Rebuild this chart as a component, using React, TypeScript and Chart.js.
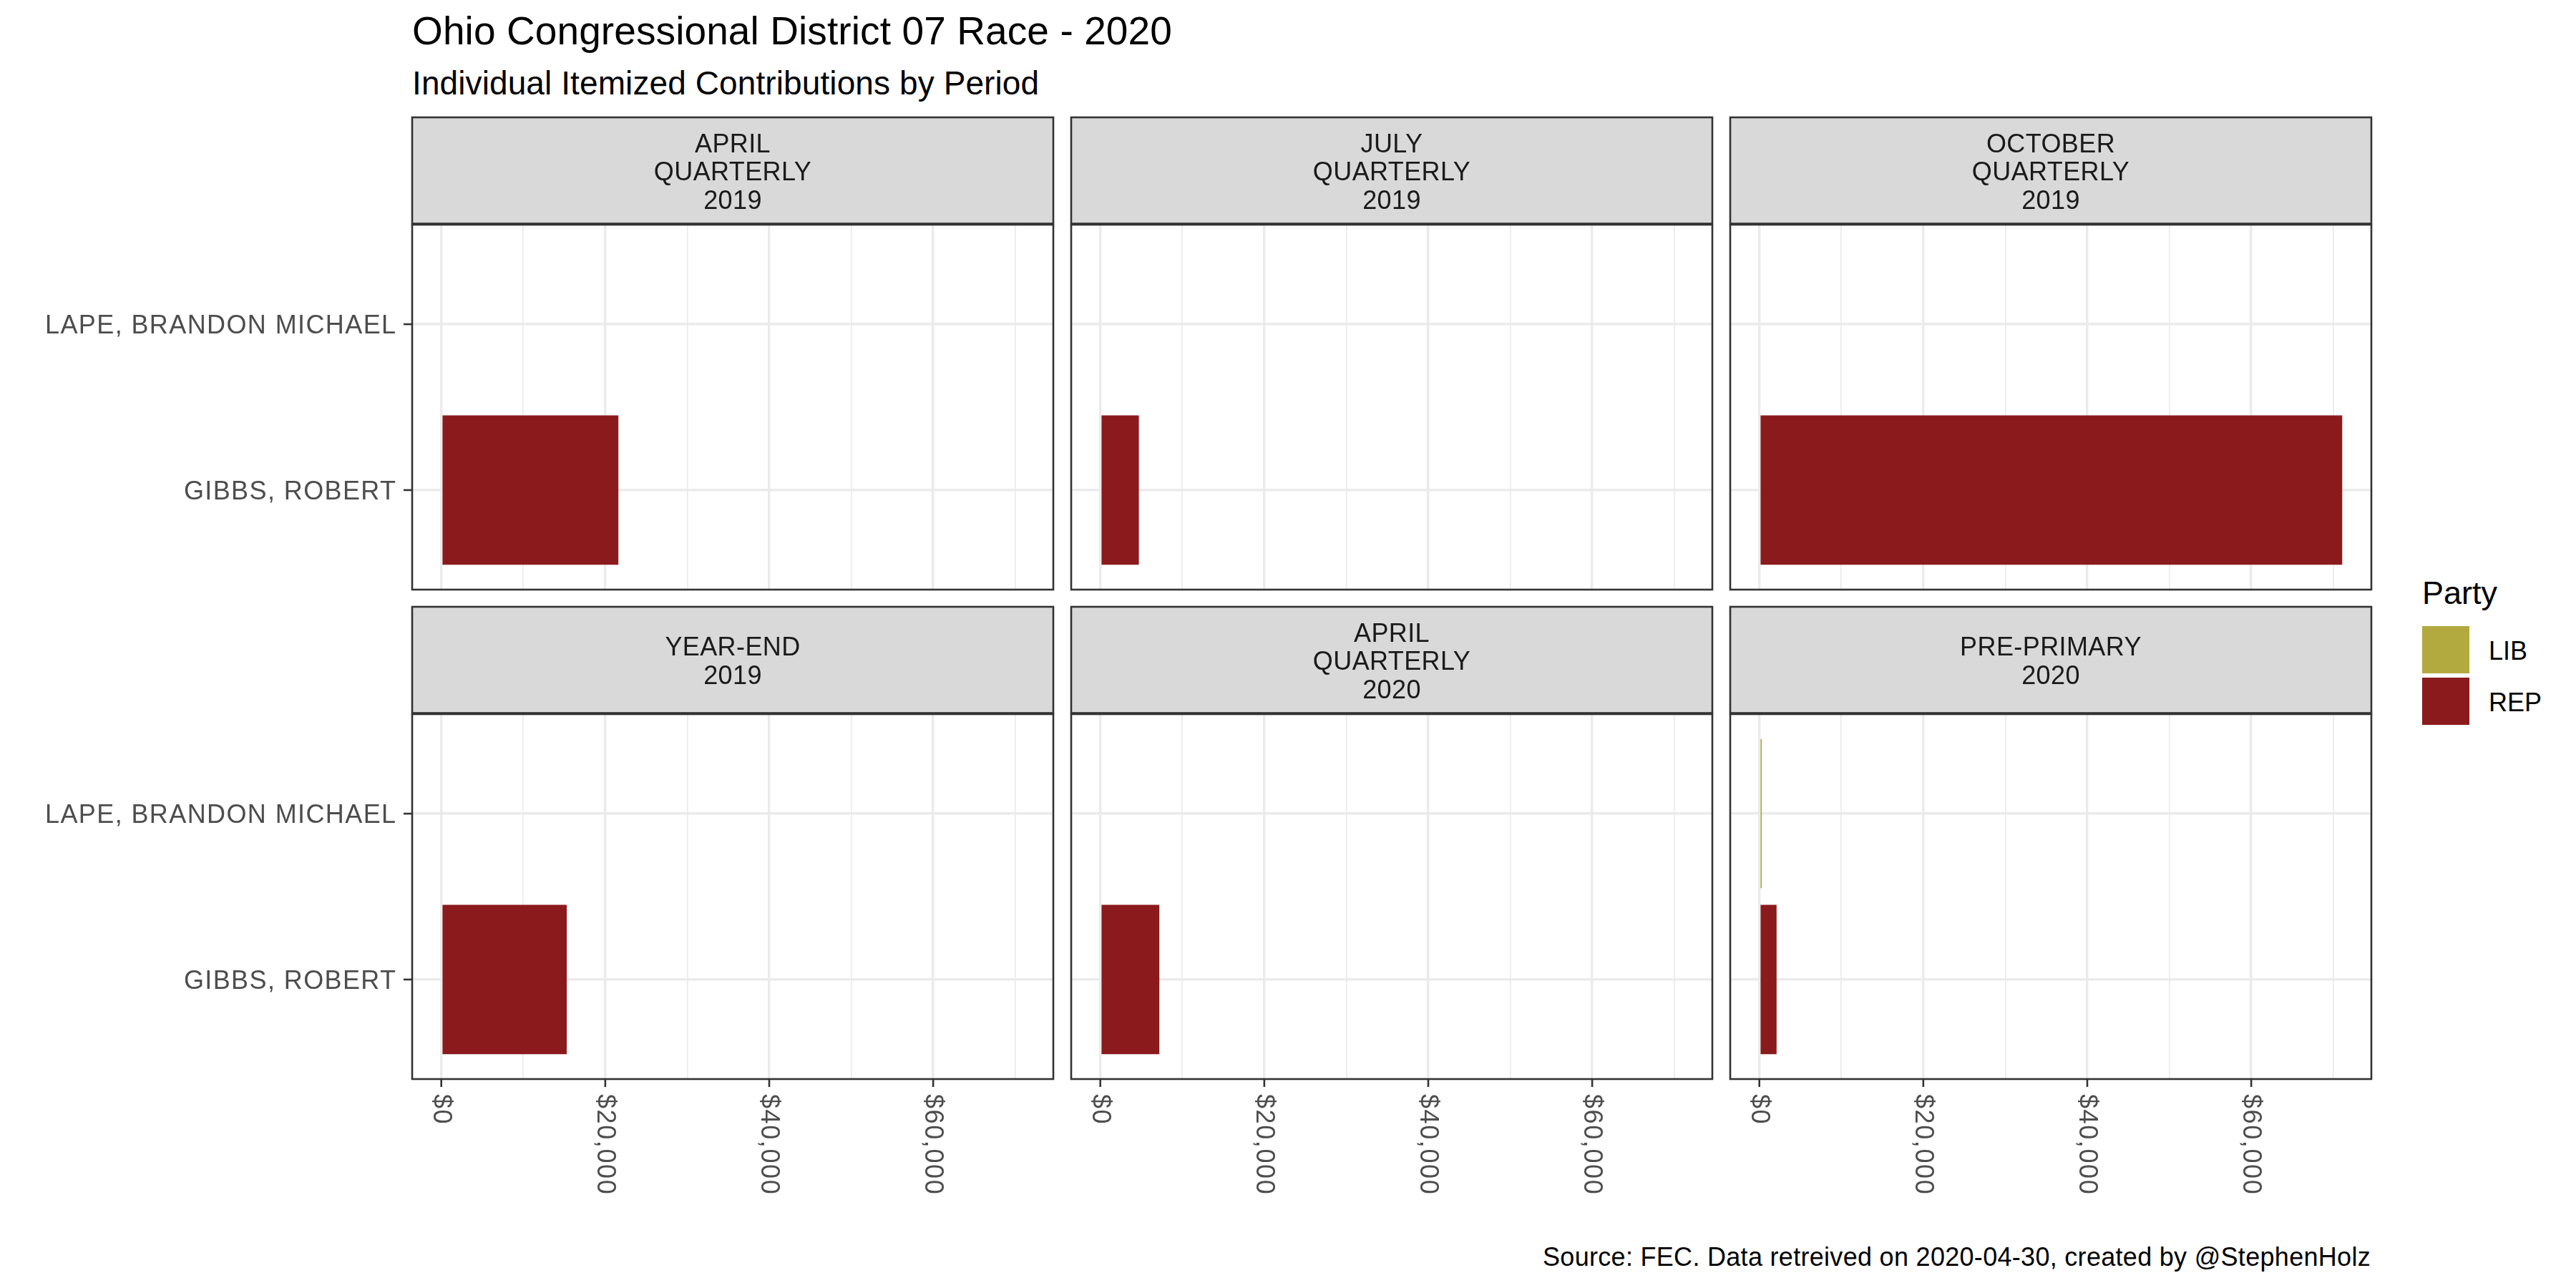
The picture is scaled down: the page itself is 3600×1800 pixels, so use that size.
import React, { useEffect, useRef } from "react";
import { Chart, registerables } from "chart.js";

Chart.register(...registerables);

// ---------- data ----------
const TITLE = "Ohio Congressional District 07 Race - 2020";
const SUBTITLE = "Individual Itemized Contributions by Period";
const CAPTION = "Source: FEC. Data retreived on 2020-04-30, created by @StephenHolz";

const periods: string[][] = [
  ["APRIL", "QUARTERLY", "2019"],
  ["JULY", "QUARTERLY", "2019"],
  ["OCTOBER", "QUARTERLY", "2019"],
  ["YEAR-END", "2019"],
  ["APRIL", "QUARTERLY", "2020"],
  ["PRE-PRIMARY", "2020"],
];
// candidates, bottom to top on the y axis
const candidates = ["GIBBS, ROBERT", "LAPE, BRANDON MICHAEL"];
// GIBBS, ROBERT (REP) per period
const gibbsRep: (number | null)[] = [21600, 4700, 71100, 15300, 7200, 2100];
// LAPE, BRANDON MICHAEL (LIB) per period
const lapeLib: (number | null)[] = [null, null, null, null, null, 300];

const parties = ["LIB", "REP"];
const partyColors = ["#B2AA3E", "#8B1A1C"];

const gridTicks = [0, 10000, 20000, 30000, 40000, 50000, 60000, 70000];
const labelTicks = [0, 20000, 40000, 60000];

// ---------- layout ----------
const FONT = '"Liberation Sans", Arial, Helvetica, sans-serif';
const COL_LEFT0 = 576;
const COL_STEP = 921;
const PANEL_W = 896;
const ROW_TOP0 = 164;
const ROW_STEP = 684;
const STRIP_H = 150;
const PLOT_H = 510;

const allValues = [...gibbsRep, ...lapeLib].filter((v): v is number => v != null);
const VMAX = Math.max(...allValues);
const XMIN = -0.05 * VMAX;
const XMAX = 1.05 * VMAX;

const fmt = (v: number) => "$" + v.toLocaleString("en-US");

function Panel({ idx }: { idx: number }) {
  const ref = useRef<HTMLCanvasElement | null>(null);
  const r = Math.floor(idx / 3);
  const c = idx % 3;
  const plotLeft = COL_LEFT0 + c * COL_STEP;
  const plotRight = plotLeft + PANEL_W;
  const stripTop = ROW_TOP0 + r * ROW_STEP;
  const plotTop = stripTop + STRIP_H;
  const plotBottom = plotTop + PLOT_H;
  const canvasLeft = c === 0 ? 0 : plotLeft - 12;
  const canvasTop = stripTop - 12;
  const canvasRight = plotRight + 12;
  const canvasBottom = plotBottom + (r === 1 ? 190 : 11);
  const w = canvasRight - canvasLeft;
  const h = canvasBottom - canvasTop;

  useEffect(() => {
    const decor = {
      id: "panelDecor",
      afterDraw(chart: any) {
        const { ctx, chartArea: a, scales } = chart;
        const xs = scales.x;
        const ys = scales.y;
        ctx.save();
        // strip
        const sTop = a.top - STRIP_H;
        ctx.fillStyle = "#D9D9D9";
        ctx.fillRect(a.left, sTop, a.right - a.left, STRIP_H - 1.5);
        ctx.strokeStyle = "#333333";
        ctx.lineWidth = 2.6;
        ctx.strokeRect(a.left, sTop, a.right - a.left, STRIP_H - 1.5);
        // strip text
        const lines = periods[idx];
        const sc = sTop + STRIP_H / 2;
        ctx.fillStyle = "#1A1A1A";
        ctx.font = `36px ${FONT}`;
        (ctx as any).letterSpacing = "0.4px";
        ctx.textAlign = "center";
        ctx.textBaseline = "alphabetic";
        const cx = (a.left + a.right) / 2;
        lines.forEach((ln, i) => {
          const cy = sc + (i - (lines.length - 1) / 2) * 39.5;
          ctx.fillText(ln, cx, cy + 13);
        });
        // panel border
        ctx.strokeStyle = "#333333";
        ctx.lineWidth = 2.6;
        ctx.strokeRect(a.left, a.top, a.right - a.left, a.bottom - a.top);
        // y axis (left column)
        if (c === 0) {
          ctx.font = `36px ${FONT}`;
          (ctx as any).letterSpacing = "1.4px";
          ctx.fillStyle = "#4D4D4D";
          ctx.textAlign = "right";
          candidates.forEach((name, i) => {
            const py = ys.getPixelForValue(i + 1);
            ctx.beginPath();
            ctx.moveTo(a.left - 12, py);
            ctx.lineTo(a.left, py);
            ctx.stroke();
            ctx.fillText(name, a.left - 21.5, py + 13);
          });
        }
        // x axis (bottom row)
        if (r === 1) {
          ctx.font = `36px ${FONT}`;
          (ctx as any).letterSpacing = "1.6px";
          ctx.fillStyle = "#4D4D4D";
          labelTicks.forEach((v) => {
            const px = xs.getPixelForValue(v);
            ctx.beginPath();
            ctx.moveTo(px, a.bottom);
            ctx.lineTo(px, a.bottom + 11);
            ctx.stroke();
            ctx.save();
            ctx.translate(px, a.bottom + 21);
            ctx.rotate(Math.PI / 2);
            ctx.textAlign = "left";
            ctx.textBaseline = "middle";
            ctx.fillText(fmt(v), 0, 1);
            ctx.restore();
          });
        }
        ctx.restore();
      },
    };

    const lib = lapeLib[idx];
    const rep = gibbsRep[idx];
    const chart = new Chart(ref.current as HTMLCanvasElement, {
      type: "bar",
      data: {
        datasets: [
          {
            label: parties[0],
            data: lib != null ? [{ x: lib, y: 2 }] : [],
            backgroundColor: partyColors[0],
            grouped: false,
            barPercentage: 0.9,
            categoryPercentage: 1,
          } as any,
          {
            label: parties[1],
            data: rep != null ? [{ x: rep, y: 1 }] : [],
            backgroundColor: partyColors[1],
            grouped: false,
            barPercentage: 0.9,
            categoryPercentage: 1,
          } as any,
        ],
      },
      options: {
        indexAxis: "y",
        responsive: false,
        animation: false,
        devicePixelRatio: 1,
        layout: {
          padding: {
            left: plotLeft - canvasLeft,
            right: canvasRight - plotRight,
            top: plotTop - canvasTop,
            bottom: canvasBottom - plotBottom,
          },
        },
        plugins: {
          legend: { display: false },
          tooltip: { enabled: false },
          title: { display: false },
        },
        scales: {
          x: {
            type: "linear",
            min: XMIN,
            max: XMAX,
            offset: false,
            ticks: { display: false },
            border: { display: false },
            grid: {
              color: "#EBEBEB",
              lineWidth: (ctx: any) =>
                ctx.tick && ctx.tick.value % 20000 === 0 ? 3.4 : 1.7,
              drawTicks: false,
              offset: false,
            },
            afterBuildTicks: (s: any) => {
              s.ticks = gridTicks.map((v) => ({ value: v }));
            },
            afterFit: (s: any) => {
              s.height = 0;
            },
          },
          y: {
            type: "linear",
            min: 0.4,
            max: 2.6,
            offset: false,
            ticks: { display: false },
            border: { display: false },
            grid: {
              color: "#EBEBEB",
              lineWidth: 3.4,
              drawTicks: false,
              offset: false,
            },
            afterBuildTicks: (s: any) => {
              s.ticks = candidates.map((_, i) => ({ value: i + 1 }));
            },
            afterFit: (s: any) => {
              s.width = 0;
            },
          },
        },
      } as any,
      plugins: [decor],
    });
    return () => chart.destroy();
  }, []);

  return (
    <canvas
      ref={ref}
      width={w}
      height={h}
      style={{ position: "absolute", left: canvasLeft, top: canvasTop, width: w, height: h }}
    />
  );
}

export default function App() {
  const text = (f: number, ls = 0) => ({
    fontFamily: FONT,
    fontSize: f,
    lineHeight: `${f}px`,
    letterSpacing: `${ls}px`,
    whiteSpace: "nowrap" as const,
  });
  return (
    <div style={{ position: "absolute", left: 0, top: 0, width: 3600, height: 1800, background: "#FFFFFF", overflow: "hidden" }}>
      <div style={{ position: "absolute", left: 576, top: 16, color: "#000", ...text(55, 0.1) }}>{TITLE}</div>
      <div style={{ position: "absolute", left: 576, top: 93, color: "#000", ...text(46, 0.1) }}>{SUBTITLE}</div>
      {periods.map((_, i) => (
        <Panel key={i} idx={i} />
      ))}
      <div style={{ position: "absolute", left: 3385, top: 806, color: "#000", ...text(45) }}>Party</div>
      {parties.map((p, i) => (
        <React.Fragment key={p}>
          <div
            style={{
              position: "absolute",
              left: 3385,
              top: 875 + i * 72,
              width: 66,
              height: 66,
              background: partyColors[i],
            }}
          />
          <div style={{ position: "absolute", left: 3478, top: 892 + i * 72, color: "#000", ...text(36) }}>{p}</div>
        </React.Fragment>
      ))}
      <div style={{ position: "absolute", left: 2100, width: 1213, top: 1739, color: "#000", textAlign: "right", ...text(36, 0.3) }}>
        {CAPTION}
      </div>
    </div>
  );
}
